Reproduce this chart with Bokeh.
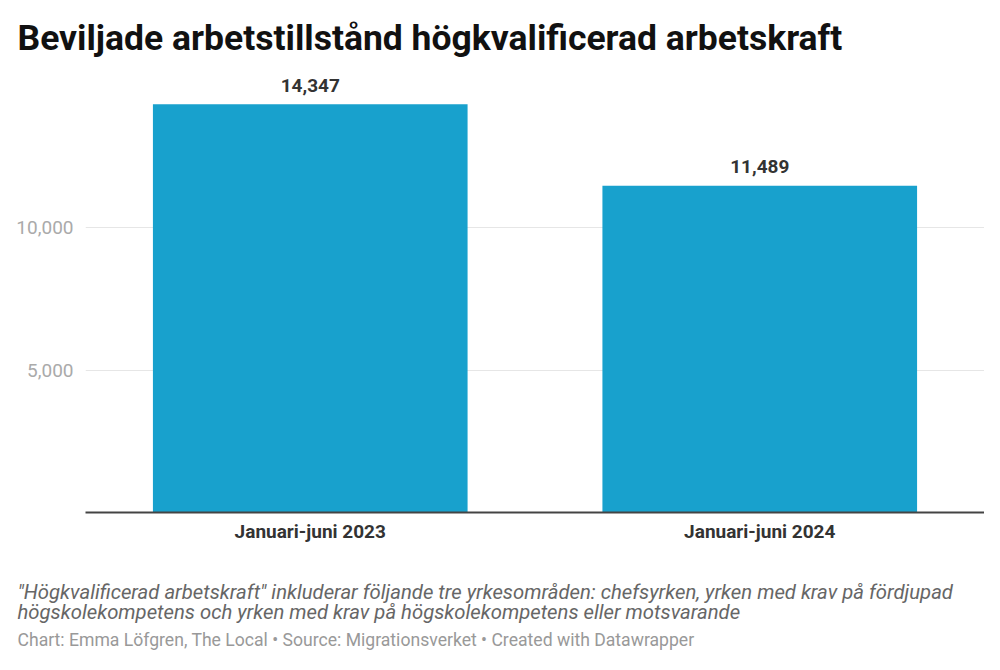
from bokeh.plotting import figure
from bokeh.models import ColumnDataSource, Range1d, FixedTicker, NumeralTickFormatter, Title
from bokeh.core.properties import value
from bokeh.embed import file_html
from bokeh.resources import INLINE

title_text = "Beviljade arbetstillstånd högkvalificerad arbetskraft"
categories = ["Januari-juni 2023", "Januari-juni 2024"]
permits = [14347, 11489]
y_ticks = [5000, 10000]
note_lines = [
    "\"Högkvalificerad arbetskraft\" inkluderar följande tre yrkesområden: chefsyrken, yrken med krav på fördjupad",
    "högskolekompetens och yrken med krav på högskolekompetens eller motsvarande",
]
source_text = "Chart: Emma Löfgren, The Local • Source: Migrationsverket • Created with Datawrapper"

FONT = "Roboto"

src = ColumnDataSource(data=dict(
    cat=categories,
    val=permits,
    lab=[f"{v:,}" for v in permits],
))

p = figure(
    x_range=categories, y_range=Range1d(0, 15360),
    width=984, height=654,
    output_backend="svg", toolbar_location=None,
    min_border_left=85, min_border_right=0, min_border_top=75, min_border_bottom=142,
)
p.outline_line_color = None
p.background_fill_color = "white"
p.border_fill_color = "white"

p.vbar(x="cat", top="val", width=0.7, source=src, color="#18a1cd", line_color=None)
p.text(x="cat", y="val", text="lab", source=src, text_align="center",
       text_baseline="alphabetic", y_offset=-19, text_font=value(FONT),
       text_font_style="bold", text_font_size="19px", text_color="#333333")

ticker = FixedTicker(ticks=y_ticks)
p.yaxis.ticker = ticker
p.ygrid.ticker = ticker
p.yaxis.formatter = NumeralTickFormatter(format="0,0")
p.yaxis.axis_line_color = None
p.yaxis.major_tick_line_color = None
p.yaxis.minor_tick_line_color = None
p.yaxis.major_tick_out = 0
p.yaxis.minor_tick_out = 0
p.yaxis.major_label_text_color = "#aaaaaa"
p.yaxis.major_label_text_font = FONT
p.yaxis.major_label_text_font_size = "19px"
p.yaxis.major_label_standoff = 12
p.ygrid.grid_line_color = "#e6e6e6"
p.ygrid.grid_line_width = 1
p.xgrid.grid_line_color = None

p.xaxis.axis_line_color = "#444444"
p.xaxis.axis_line_width = 1.8
p.xaxis.major_tick_line_color = None
p.xaxis.minor_tick_line_color = None
p.xaxis.major_tick_out = 0
p.xaxis.minor_tick_out = 0
p.xaxis.major_label_text_font = FONT
p.xaxis.major_label_text_font_style = "bold"
p.xaxis.major_label_text_font_size = "19px"
p.xaxis.major_label_text_color = "#333333"
p.xaxis.major_label_standoff = 7

p.title.text = title_text
p.title.align = "left"
p.title.vertical_align = "top"
p.title.offset = -68
p.title.standoff = 30
p.title.text_font = FONT
p.title.text_font_style = "bold"
p.title.text_font_size = "35.5px"
p.title.text_color = "#111111"

# spacer between the category labels and the notes
p.add_layout(Title(text=" ", standoff=0, text_font=FONT, text_font_size="25px"), "below")
p.add_layout(Title(text="\n".join(note_lines), align="left", offset=-68, standoff=2,
                   text_font=FONT, text_font_style="italic", text_font_size="20.3px",
                   text_line_height=0.86, text_color="#666666"), "below")
p.add_layout(Title(text=source_text, align="left", offset=-68, standoff=4,
                   text_font=FONT, text_font_style="normal", text_font_size="17.6px",
                   text_color="#999999"), "below")

open("out.html", "w").write(file_html(p, INLINE))
